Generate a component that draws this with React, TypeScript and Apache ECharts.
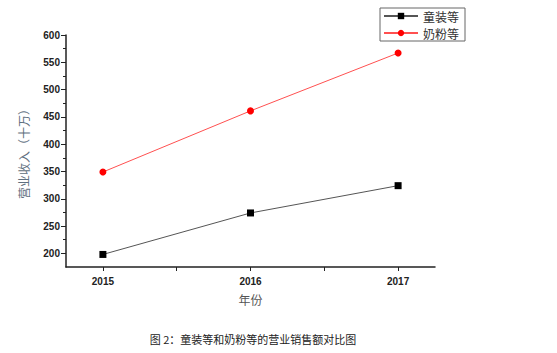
import React, { useEffect, useRef } from "react";
import * as echarts from "echarts";

const years = [2015, 2016, 2017];
const kidsWear = [198, 274, 324];
const milkPowder = [349, 461, 567];
const seriesNames = ["童装等", "奶粉等"];
const yLabels = [200, 250, 300, 350, 400, 450, 500, 550, 600];
const yMinor = [225, 275, 325, 375, 425, 475, 525, 575];
const xTicks = [2015, 2015.5, 2016, 2016.5, 2017];

export default function App() {
  const ref = useRef<HTMLDivElement>(null);
  useEffect(() => {
    const chart = echarts.init(ref.current!, null, { renderer: "svg" });
    const cjk = '"Noto Sans CJK SC", sans-serif';
    chart.setOption({
      animation: false,
      backgroundColor: "#fff",
      title: {
        text: "图 2：童装等和奶粉等的营业销售额对比图",
        left: 248,
        textAlign: "center",
        top: 328,
        textStyle: { fontFamily: cjk, fontSize: 11, fontWeight: "normal", color: "#222" },
      },
      legend: {
        orient: "vertical",
        left: 380,
        top: 8,
        padding: [1, 6, 1, 3],
        itemGap: 3,
        itemWidth: 34,
        itemHeight: 8,
        borderColor: "#666",
        borderWidth: 1,
        borderRadius: 0,
        textStyle: { fontFamily: cjk, fontSize: 12, color: "#333", lineHeight: 14 },
        data: seriesNames,
      },
      grid: { left: 66, right: 122, top: 35, bottom: 86 },
      xAxis: {
        type: "value",
        min: 2014.75,
        max: 2017.25,
        name: "年份",
        nameLocation: "middle",
        nameGap: 26,
        nameTextStyle: { fontFamily: cjk, fontSize: 12, color: "#555" },
        axisLine: { lineStyle: { color: "#222", width: 1.5 } },
        axisTick: { customValues: xTicks, length: 4, lineStyle: { color: "#222" } },
        axisLabel: {
          customValues: years,
          formatter: (v: number) => String(v),
          fontFamily: "Liberation Sans, Arial",
          fontSize: 10,
          fontWeight: "bold",
          color: "#222",
          margin: 9,
        },
        splitLine: { show: false },
      },
      yAxis: [
        {
          type: "value",
          min: 175,
          max: 600,
          name: "营业收入（十万）",
          nameLocation: "middle",
          nameGap: 37,
          nameTextStyle: { fontFamily: cjk, fontSize: 12, color: "#5f7080" },
          axisLine: { show: true, lineStyle: { color: "#222", width: 1.5 } },
          axisTick: { show: true, customValues: yLabels, length: 5, lineStyle: { color: "#222" } },
          axisLabel: {
            customValues: yLabels,
            fontFamily: "Liberation Sans, Arial",
            fontSize: 10,
            fontWeight: "bold",
            color: "#222",
            margin: 6,
          },
          splitLine: { show: false },
        },
        {
          type: "value",
          min: 175,
          max: 600,
          position: "left",
          axisLine: { show: false },
          axisTick: { show: true, customValues: yMinor, length: 3, lineStyle: { color: "#222" } },
          axisLabel: { show: false },
          splitLine: { show: false },
        },
      ],
      series: [
        {
          name: seriesNames[0],
          type: "line",
          data: years.map((y, i) => [y, kidsWear[i]]),
          symbol: "rect",
          symbolSize: 7,
          itemStyle: { color: "#000" },
          lineStyle: { color: "#555", width: 1 },
        },
        {
          name: seriesNames[1],
          type: "line",
          data: years.map((y, i) => [y, milkPowder[i]]),
          symbol: "circle",
          symbolSize: 7,
          itemStyle: { color: "#ff0000" },
          lineStyle: { color: "#ff5050", width: 1 },
        },
      ],
    });
    return () => chart.dispose();
  }, []);
  return (
    <div
      ref={ref}
      style={{ position: "fixed", left: 0, top: 0, width: 557, height: 353 }}
    />
  );
}
